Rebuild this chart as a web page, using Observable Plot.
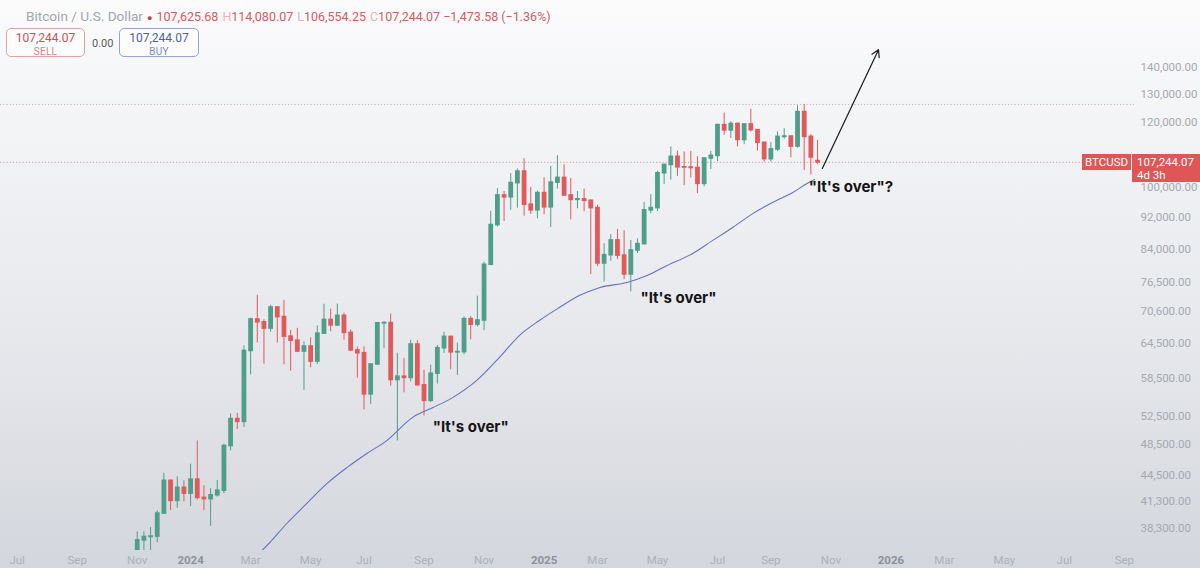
<!DOCTYPE html>
<html>
<head>
<meta charset="utf-8">
<script src="https://cdn.jsdelivr.net/npm/d3@7"></script>
<script src="https://cdn.jsdelivr.net/npm/@observablehq/plot@0.6"></script>
<style>
html,body{margin:0;padding:0;}
body{width:1200px;height:568px;overflow:hidden;font-family:Roboto,"Open Sans",sans-serif;}
#wrap{position:relative;width:1200px;height:568px;background:linear-gradient(to bottom,#fbfbfc 0%,#f2f3f5 25%,#e7e8ec 60%,#d3d6dc 100%);}
#chart svg{display:block;background:transparent;}
#hdr{position:absolute;left:26px;top:7px;font-size:12.5px;line-height:18px;white-space:nowrap;}
#hdr .g{color:#a3a7ae;font-size:13.6px;}
#hdr .r{color:#cf5f5d;}
#hdr .k{color:#e8b4b4;margin-left:4px;}
#hdr .dot{color:#b04848;margin:0 4px;font-size:9px;}
.box{position:absolute;top:28px;height:29px;border-radius:5px;background:rgba(255,255,255,0.55);text-align:center;box-sizing:border-box;}
.box .v{font-size:12px;line-height:13px;margin-top:3px;}
.box .t{font-size:10px;line-height:11px;margin-top:1px;letter-spacing:0.3px;}
#sell{left:6px;width:79px;border:1px solid #e3a2a2;}
#sell .v{color:#cd5353;} #sell .t{color:#df8080;}
#buy{left:119px;width:80px;border:1px solid #95a2d4;}
#buy .v{color:#4f5fab;} #buy .t{color:#7d8bc8;}
#zero{position:absolute;left:92px;top:37px;font-size:11px;color:#5a5d63;}
.pl{position:absolute;background:#e05656;color:#fff;font-size:11.5px;box-sizing:border-box;}
</style>
</head>
<body>
<div id="wrap">
  <div id="chart"></div>
  <div id="hdr"><span class="g">Bitcoin / U.S. Dollar</span><span class="dot">●</span><span class="r">107,625.68</span><span class="k">H</span><span class="r">114,080.07</span><span class="k">L</span><span class="r">106,554.25</span><span class="k">C</span><span class="r">107,244.07</span> <span class="r">−1,473.58 (−1.36%)</span></div>
  <div id="sell" class="box"><div class="v">107,244.07</div><div class="t">SELL</div></div>
  <div id="zero">0.00</div>
  <div id="buy" class="box"><div class="v">107,244.07</div><div class="t">BUY</div></div>
</div>
<script>
// ---- weekly candles (BTCUSD) ----
const weeks = ["2023-11-06","2023-11-13","2023-11-20","2023-11-27","2023-12-04","2023-12-11","2023-12-18","2023-12-25",
"2024-01-01","2024-01-08","2024-01-15","2024-01-22","2024-01-29","2024-02-05","2024-02-12","2024-02-19","2024-02-26",
"2024-03-04","2024-03-11","2024-03-18","2024-03-25","2024-04-01","2024-04-08","2024-04-15","2024-04-22","2024-04-29",
"2024-05-06","2024-05-13","2024-05-20","2024-05-27","2024-06-03","2024-06-10","2024-06-17","2024-06-24",
"2024-07-01","2024-07-08","2024-07-15","2024-07-22","2024-07-29","2024-08-05","2024-08-12","2024-08-19","2024-08-26",
"2024-09-02","2024-09-09","2024-09-16","2024-09-23","2024-09-30","2024-10-07","2024-10-14","2024-10-21","2024-10-28",
"2024-11-04","2024-11-11","2024-11-18","2024-11-25","2024-12-02","2024-12-09","2024-12-16","2024-12-23","2024-12-30",
"2025-01-06","2025-01-13","2025-01-20","2025-01-27","2025-02-03","2025-02-10","2025-02-17","2025-02-24",
"2025-03-03","2025-03-10","2025-03-17","2025-03-24","2025-03-31","2025-04-07","2025-04-14","2025-04-21","2025-04-28",
"2025-05-05","2025-05-12","2025-05-19","2025-05-26","2025-06-02","2025-06-09","2025-06-16","2025-06-23","2025-06-30",
"2025-07-07","2025-07-14","2025-07-21","2025-07-28","2025-08-04","2025-08-11","2025-08-18","2025-08-25",
"2025-09-01","2025-09-08","2025-09-15","2025-09-22","2025-09-29","2025-10-06","2025-10-13","2025-10-20"];

const open = [35050,37050,37400,37450,39950,43800,41400,42950,
42250,43950,41750,41600,42050,42600,48300,52100,51700,
63100,68950,68400,67200,71300,69400,65700,64950,63000,
63900,61250,66250,68850,67800,69650,66400,63200,
62700,55850,60750,68200,68250,58150,58700,58500,64250,
57300,54850,59200,63600,65650,62850,62900,69000,67950,
68750,80400,89900,97700,97200,101150,104500,95200,93700,
98350,94500,101300,102650,97700,96500,96650,96250,
94300,80700,82600,86100,82500,78250,83700,85200,93700,
94300,104000,106450,108900,105750,105700,105550,100950,108400,
109200,119050,117300,119450,114200,119300,117400,113300,
108200,111200,115200,115300,112100,123500,115200,107625.68];

const high = [37950,37950,38400,40250,44750,43900,44300,43800,
45900,49000,43200,42850,43850,48550,52850,52950,64000,
69200,73800,68900,71750,71400,72750,66850,67250,64750,
65500,67700,71950,71000,72000,70200,66950,63800,
63850,60800,68400,68500,70000,62700,61800,65050,64950,
59800,60650,64100,66500,65700,64500,69450,69500,73600,
81000,93450,99600,98800,103900,105250,108350,99950,98950,
102700,106000,109300,106500,102500,98800,99500,96500,
95000,85300,87500,88800,88500,86100,86500,95800,97900,
104600,106700,112000,110700,110400,110600,108900,108500,110600,
119400,123200,120200,119800,119300,124500,117600,113400,
113400,116800,117900,115400,125700,126200,115950,114080.07];

const low = [34550,35000,35650,36800,39950,40300,40550,41300,
40750,41500,40300,38550,41850,42250,47650,50600,50900,
59000,64550,60800,66500,64500,60700,59600,62800,56500,
60200,60750,66100,66600,67600,65050,63000,58450,
53450,54300,60650,63500,57150,49000,56100,57850,57250,
52550,54600,57500,62700,59850,58900,62400,65100,67500,
66800,80250,89400,90800,93700,94300,92200,92600,91500,
92500,89300,99500,97500,91200,94100,93300,78200,
80000,76600,81200,81600,77100,74500,83000,85100,92800,
93400,100800,102000,103100,100400,102600,98200,100100,105100,
107500,115700,114700,112000,112700,116800,110700,107300,
107300,110600,114400,108600,111600,104800,103500,106554.25];

const close = [37050,37400,37450,39950,43800,41400,42950,42250,
43950,41750,41600,42050,42600,48300,52100,51700,63100,
68950,68400,67200,71300,69400,65700,64950,63000,63900,
61250,66250,68850,67800,69650,66400,63200,62700,
55850,60750,68200,68250,58150,58700,58500,64250,57300,
54850,59200,63600,65650,62850,62900,69000,67950,68750,
80400,89900,97700,97200,101150,104500,95200,93700,98350,
94500,101300,102650,97700,96500,96650,96250,94300,
80700,82600,86100,82500,78250,83700,85200,93700,94300,
104000,106450,108900,105750,105700,105550,100950,108400,109200,
119050,117300,119450,114200,119300,117400,113300,108200,
111200,115200,115300,112100,123500,115200,108717.65,107244.07];

// ---- moving average line ----
const maDates = ["2024-03-12","2024-03-19","2024-04-11","2024-05-02","2024-05-23","2024-06-13","2024-07-04","2024-07-25",
"2024-08-21","2024-09-11","2024-10-02","2024-10-27","2024-11-20","2024-12-11","2025-01-01","2025-01-22","2025-02-12",
"2025-03-05","2025-04-03","2025-04-24","2025-05-15","2025-06-11","2025-07-02","2025-07-23","2025-08-13","2025-09-03",
"2025-09-24","2025-10-09","2025-10-17"];
const maValues = [35700,36300,38850,41100,43450,45450,47300,49050,
52350,53800,55350,58050,61950,65900,68750,71300,73750,
75400,76500,78000,80250,83000,86100,89300,92850,95800,
98500,101050,102200];

// ---- reference levels ----
const levelValues = [126200, 107244.07];
const levelColors = ["#c0b4b7", "#cf9c9c"];
const lastPrice = 107244.07;

// ---- axis ticks ----
const yTicks = [140000,130000,120000,100000,92000,84000,76500,70600,64500,58500,52500,48500,44500,41300,38300];
const monthTickDates = ["2023-07-03","2023-09-04","2023-11-06","2024-03-04","2024-05-06","2024-07-01","2024-09-02","2024-11-04",
"2025-03-03","2025-05-05","2025-07-07","2025-09-01","2025-11-03","2026-03-02","2026-05-04","2026-07-06","2026-09-07"];
const monthTickLabels = ["Jul","Sep","Nov","Mar","May","Jul","Sep","Nov","Mar","May","Jul","Sep","Nov","Mar","May","Jul","Sep"];
const yearTickDates = ["2024-01-01","2025-01-06","2026-01-05"];
const yearTickLabels = ["2024","2025","2026"];

// ---- annotations ----
const noteTexts = ["\"It's over\"", "\"It's over\"", "\"It's over\"?"];
const noteDates = ["2024-10-21","2025-05-27","2025-11-24"];
const notePrices = [50880, 73130, 99880];
const arrowFrom = {date: "2025-10-25", price: 105400};
const arrowTo = {date: "2025-12-23", price: 147200};

// ---- build tables ----
const candles = weeks.map((w, i) => ({date: new Date(w), o: open[i], h: high[i], l: low[i], c: close[i]}));
const ma = maDates.map((d, i) => ({date: new Date(d), v: maValues[i]}));
const notes = noteTexts.map((t, i) => ({text: t, date: new Date(noteDates[i]), price: notePrices[i]}));
const levels = levelValues.map((v, i) => ({v, color: levelColors[i]}));
const arrows = [{x1: new Date(arrowFrom.date), y1: arrowFrom.price, x2: new Date(arrowTo.date), y2: arrowTo.price}];

const GREEN = "#4e9e89", RED = "#e05a5c";
const col = d => d.c >= d.o ? GREEN : RED;
const monthMap = new Map(monthTickDates.map((d, i) => [+new Date(d), monthTickLabels[i]]));
const yearMap = new Map(yearTickDates.map((d, i) => [+new Date(d), yearTickLabels[i]]));

const chart = Plot.plot({
  width: 1200,
  height: 568,
  marginTop: 0,
  marginBottom: 18,
  marginLeft: 0,
  marginRight: 65,
  style: {background: "transparent", fontFamily: "Roboto, sans-serif", overflow: "visible"},
  x: {type: "utc", domain: [new Date("2023-06-15T12:00Z"), new Date("2026-09-18T17:00Z")]},
  y: {type: "log", domain: [36009, 169024]},
  marks: [
    Plot.ruleY(levels, {y: "v", stroke: "color", strokeWidth: 1, strokeDasharray: "1.2,2"}),
    Plot.line(ma, {x: "date", y: "v", stroke: "#6270c2", strokeWidth: 1.05, curve: "monotone-x", clip: true}),
    Plot.ruleX(candles, {x: "date", y1: "l", y2: "h", stroke: col, strokeWidth: 1, clip: true}),
    Plot.ruleX(candles, {x: "date", y1: d => Math.max(d.o, d.c), y2: d => Math.min(d.o, d.c),
      stroke: col, strokeWidth: 4.8, insetTop: -0.8, insetBottom: -0.8, clip: true}),
    Plot.text(notes, {x: "date", y: "price", text: "text", fontSize: 15, fontWeight: 700,
      fontFamily: "Inter, 'Liberation Sans', sans-serif", fill: "#141414"}),
    Plot.arrow(arrows, {x1: "x1", y1: "y1", x2: "x2", y2: "y2", stroke: "#1a1a1a", strokeWidth: 1.2, headLength: 10}),
    Plot.axisY({anchor: "right", ticks: yTicks, tickFormat: d3.format(",.2f"), tickSize: 0, tickPadding: 5,
      color: "#a5a9b0", fontSize: 11.5, label: null}),
    Plot.axisX({ticks: monthTickDates.map(d => new Date(d)), tickFormat: d => monthMap.get(+d), tickSize: 0, tickPadding: 5,
      color: "#adb1b8", fontSize: 11.5, label: null}),
    Plot.axisX({ticks: yearTickDates.map(d => new Date(d)), tickFormat: d => yearMap.get(+d), tickSize: 0, tickPadding: 5,
      color: "#8d9199", fontSize: 11.5, fontWeight: 700, label: null})
  ]
});
document.getElementById("chart").appendChild(chart);

// price label on the right, placed through the y scale
const py = chart.scale("y").apply(lastPrice);
const wrap = document.getElementById("wrap");
const a = document.createElement("div");
a.className = "pl";
a.style.cssText = `left:1082px;top:${py - 8}px;width:49px;height:16px;line-height:16px;text-align:center;`;
a.textContent = "BTCUSD";
wrap.appendChild(a);
const b = document.createElement("div");
b.className = "pl";
b.style.cssText = `left:1132px;top:${py - 8}px;width:68px;height:28px;padding-left:5px;line-height:13px;padding-top:2px;`;
b.innerHTML = d3.format(",.2f")(lastPrice) + "<br>4d 3h";
wrap.appendChild(b);
</script>
</body>
</html>
